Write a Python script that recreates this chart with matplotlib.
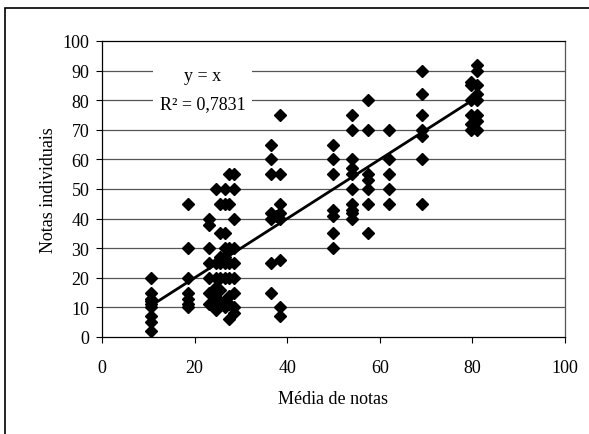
import numpy as np
import matplotlib.pyplot as plt
from matplotlib.patches import Rectangle

plt.rcParams['font.family'] = ['Liberation Serif', 'DejaVu Serif']

# media de notas (x) e notas individuais (y)
col_x = [10.5, 18.6, 23.1, 24.6, 25.5, 26.6, 27.5, 28.5,
         36.6, 37.5, 38.4, 49.8, 53.9, 57.5, 61.9, 69.2, 79.8, 81.0]
col_y = [
    [20, 15, 13, 12, 11, 10, 7, 5, 2],
    [45, 30, 20, 15, 13, 11, 10],
    [40, 38, 30, 25, 20, 15, 11],
    [50, 25, 20, 17, 15, 13, 9],
    [45, 35, 27, 25, 20, 16, 12],
    [50, 45, 35, 30, 27, 25, 20, 12, 10],
    [55, 45, 30, 25, 20, 14, 11, 6],
    [55, 50, 40, 30, 25, 20, 15, 10, 8],
    [65, 60, 55, 42, 40, 25, 15],
    [41],
    [75, 55, 45, 42, 40, 26, 10, 7],
    [65, 60, 55, 43, 41, 35, 30],
    [75, 70, 60, 57, 55, 50, 45, 43, 42, 40],
    [80, 70, 55, 53, 50, 45, 35],
    [70, 60, 55, 50, 45],
    [90, 82, 75, 70, 68, 60, 45],
    [86, 85, 80, 75, 72, 70],
    [92, 90, 85, 82, 80, 75, 73, 70],
]

xs = []
ys = []
for cx, cy in zip(col_x, col_y):
    for v in cy:
        xs.append(cx)
        ys.append(v)
xs = np.array(xs)
ys = np.array(ys)

fig = plt.figure(figsize=(5.89, 4.35), dpi=100)
ax = fig.add_axes([102 / 589, 1 - 338 / 435, (565 - 102) / 589, (338 - 42) / 435])

# moldura externa
fig.patches.append(Rectangle((5 / 589, -0.1), 1.2, 1 - 9 / 435 + 0.1,
                             transform=fig.transFigure, fill=False,
                             edgecolor='black', lw=1.2))

for yv in range(10, 100, 10):
    ax.axhline(yv, color='#555555', lw=0.9, zorder=1)

ax.plot(xs, ys, 'D', color='black', markersize=6, zorder=3, linestyle='none')

# linha y = x
lx = np.array([xs.min(), xs.max()])
ax.plot(lx, lx, color='black', lw=2, zorder=4)

# caixa da equacao
ax.add_patch(Rectangle((11, 75), 21.5, 18, facecolor='white', edgecolor='none', zorder=2))
ax.text(21.7, 88.3, 'y = x', ha='center', va='center', fontsize=13, zorder=5)
ax.text(21.7, 78.7, 'R² = 0,7831', ha='center', va='center', fontsize=13, zorder=5)

ax.set_xlim(0, 100)
ax.set_ylim(0, 100)
ax.set_xticks(range(0, 101, 20))
ax.set_yticks(range(0, 101, 10))
ax.tick_params(direction='out', length=4, labelsize=13, width=0.8)
ax.tick_params(axis='x', pad=12)
ax.tick_params(axis='y', pad=5)
for s in ax.spines.values():
    s.set_color('black')
    s.set_linewidth(0.9)
ax.spines['right'].set_color('#555555')

ax.set_xlabel('Média de notas', fontsize=13, labelpad=10)
ax.set_ylabel('Notas individuais', fontsize=13, labelpad=4)

fig.savefig('out.png', dpi=100)
